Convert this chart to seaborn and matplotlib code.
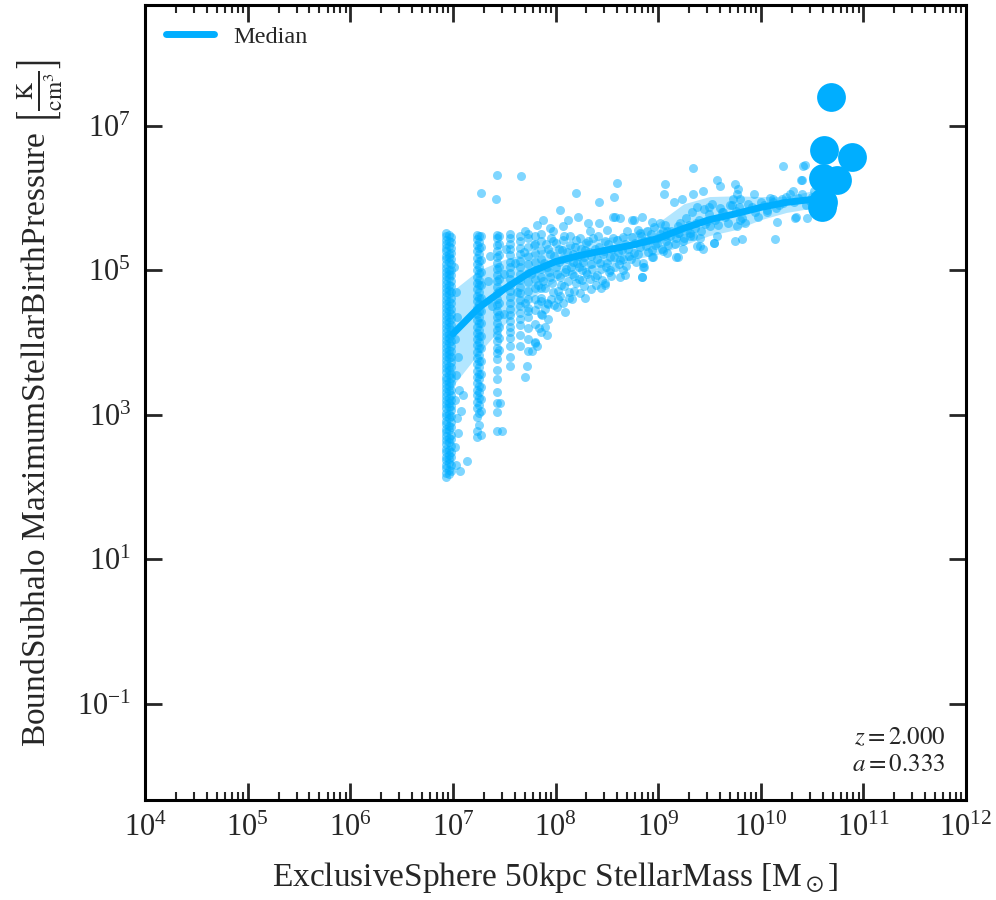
import numpy as np
import pandas as pd
import seaborn as sns
import matplotlib
matplotlib.use("Agg")
import matplotlib.pyplot as plt
from matplotlib.ticker import FixedLocator, LogFormatterSciNotation, NullLocator, LogLocator

# all values are log10 (mass in Msun, pressure in K/cm^3)
colour = "#00AEFF"

# vertical stripes at multiples of the star particle mass
stripe_x = [6.935, 6.958, 6.982, 7.232, 7.252, 7.272, 7.430, 7.452, 7.555, 7.652, 7.731,
            7.798, 7.856]
stripe_1a = [2.14, 2.19, 2.26, 2.31, 2.37, 2.42, 2.48, 2.53, 2.59, 2.65, 2.70, 2.76, 2.81, 2.87,
             2.92, 2.98, 3.03, 3.09, 3.15, 3.20, 3.26, 3.31, 3.37, 3.42, 3.48, 3.53, 3.59, 3.65,
             3.70, 3.76, 3.81, 3.87, 3.92, 3.98, 4.03, 4.09, 4.15, 4.20, 4.26, 4.31, 4.37, 4.42,
             4.48, 4.53, 4.59, 4.65, 4.70, 4.76, 4.81, 4.87, 4.92, 4.98, 5.03, 5.09, 5.15, 5.20,
             5.26, 5.31, 5.37, 5.42, 5.47, 5.52]
stripe_1b = [2.18, 2.24, 2.33, 2.39, 2.45, 2.51, 2.62, 2.68, 2.79, 2.84, 2.95, 3.01, 3.11, 3.17,
             3.23, 3.33, 3.40, 3.46, 3.55, 3.62, 3.68, 3.78, 3.84, 3.90, 4.00, 4.06, 4.12, 4.22,
             4.29, 4.35, 4.44, 4.50, 4.57, 4.67, 4.73, 4.79, 4.89, 4.95, 5.01, 5.11, 5.18, 5.23,
             5.34, 5.40, 5.49]
stripe_1c = [2.22, 2.30, 2.41, 2.49, 2.57, 2.66, 2.72, 2.83, 2.90, 2.99, 3.06, 3.12, 3.21, 3.28,
             3.35, 3.44, 3.51, 3.57, 3.66, 3.73, 3.80, 3.88, 3.95, 4.02, 4.10, 4.17, 4.24, 4.33,
             4.40, 4.46, 4.55, 4.62, 4.70, 4.78, 4.85, 4.93, 5.00, 5.08, 5.16, 5.24, 5.31, 5.39,
             5.46]
stripe_2a = [2.69, 2.78, 2.97, 3.10, 3.18, 3.27, 3.35, 3.44, 3.53, 3.61, 3.70, 3.79, 3.87, 3.96,
             4.05, 4.13, 4.22, 4.31, 4.39, 4.48, 4.57, 4.65, 4.74, 4.83, 4.91, 5.00, 5.09, 5.17,
             5.26, 5.35, 5.43, 5.49]
stripe_2b = [2.86, 3.02, 3.14, 3.23, 3.31, 3.40, 3.49, 3.57, 3.66, 3.75, 3.83, 3.92, 4.01, 4.09,
             4.18, 4.27, 4.35, 4.44, 4.53, 4.61, 4.70, 4.79, 4.87, 4.96, 5.05, 5.13, 5.22, 5.31,
             5.39, 5.47]
stripe_2c = [2.72, 3.05, 3.22, 3.39, 3.57, 3.74, 3.92, 4.09, 4.27, 4.44, 4.62, 4.79, 4.97, 5.14,
             5.32, 5.47]
stripe_3a = [2.77, 3.04, 3.17, 3.31, 3.49, 3.62, 3.77, 3.85, 3.93, 4.02, 4.10, 4.18, 4.27, 4.35,
             4.44, 4.52, 4.60, 4.69, 4.77, 4.85, 4.94, 5.02, 5.10, 5.19, 5.27, 5.35, 5.44, 5.49]
stripe_3b = [3.90, 4.06, 4.22, 4.38, 4.55, 4.71, 4.88, 5.04, 5.21, 5.37, 5.48]
stripe_4 = [3.67, 3.80, 3.95, 4.06, 4.14, 4.22, 4.30, 4.38, 4.46, 4.55, 4.63, 4.71, 4.79, 4.88,
            4.96, 5.04, 5.12, 5.21, 5.29, 5.37, 5.45, 5.50]
stripe_5 = [3.95, 4.10, 4.24, 4.32, 4.41, 4.50, 4.59, 4.68, 4.77, 4.86, 4.95, 5.04, 5.13, 5.22,
            5.31, 5.40, 5.48]
stripe_6 = [3.88, 4.05, 4.20, 4.35, 4.48, 4.60, 4.72, 4.84, 4.96, 5.08, 5.20, 5.32, 5.44, 5.50]
stripe_7 = [4.00, 4.25, 4.45, 4.60, 4.75, 4.88, 5.00, 5.12, 5.24, 5.36, 5.47]
stripe_8 = [4.15, 4.40, 4.58, 4.75, 4.90, 5.02, 5.15, 5.28, 5.40, 5.50]

# loose points (x, y)
cloud_x = [7.03, 7.07, 7.14, 7.02, 7.05, 7.04, 7.08, 7.02, 7.06, 7.10, 7.03, 7.05, 7.02, 7.04,
           7.03, 7.01, 7.48, 7.46, 7.70, 7.72, 7.77, 7.82, 7.90, 7.92, 7.73, 7.80, 7.83, 7.93,
           8.01, 8.09, 8.02, 8.16, 8.29, 8.39, 8.48, 8.68, 8.84, 8.85, 8.94,
           7.27, 7.42, 7.43, 7.66, 7.70, 7.82, 7.88, 7.95,
           7.90, 7.92, 7.93, 7.95, 7.96, 7.98, 7.99, 8.00, 8.01, 8.03, 8.05, 8.06, 8.08, 8.09,
           8.11, 8.12, 8.14, 8.15, 8.17, 8.18, 8.20, 8.21, 8.23, 8.25, 8.26, 8.28, 8.30, 8.31,
           8.33, 8.35, 8.37, 8.38, 8.40, 8.42, 8.44, 8.46, 8.48, 8.50, 8.52, 8.55, 8.57, 8.60,
           8.62, 8.65, 8.68, 8.72, 8.75, 8.78, 8.82, 8.86, 8.90, 8.93, 8.97, 9.00, 9.04, 9.08,
           9.12, 9.16, 9.20, 9.25, 9.30, 9.36, 9.40, 9.46, 9.50, 9.55, 9.60, 9.65, 9.70, 9.76,
           9.82, 9.88, 9.94, 10.00, 10.06, 10.12, 10.18, 10.25, 10.32, 10.40, 10.48, 10.52,
           8.04, 8.12, 8.22, 8.32, 8.42, 8.20, 8.42, 8.57, 8.60, 8.56, 8.63, 8.75, 8.84, 8.94,
           9.07, 9.06, 9.15, 9.23, 9.34, 9.44, 9.57, 9.34, 7.98, 8.07, 8.34, 8.50, 8.70, 8.80,
           8.89, 9.02, 9.09, 9.19, 9.28,
           8.53, 8.63, 8.48, 8.66, 8.76, 8.84, 8.86, 8.95, 9.09, 9.17, 9.24, 9.38, 9.44, 9.54,
           9.34,
           9.38, 9.50, 9.60, 9.75, 9.78, 9.77, 9.93, 9.72, 9.80, 9.77, 9.82, 9.75, 9.57, 9.51,
           9.41, 9.31, 9.19, 9.07, 9.19, 9.41, 10.14, 10.16, 10.22, 10.31, 10.34, 10.41, 10.40,
           10.45, 10.21, 10.06, 10.12, 10.33, 10.39, 10.43, 9.80, 9.62, 9.54, 8.58, 8.76, 8.82,
           9.05, 8.66]
cloud_y = [2.30, 2.22, 2.36, 2.55, 2.75, 2.95, 3.05, 3.20, 3.35, 3.28, 3.55, 3.80, 4.05, 4.35,
           4.70, 5.05, 2.77, 3.17, 3.53, 3.67, 3.88, 3.95, 4.22, 4.11, 4.43, 4.01, 4.53, 4.53,
           4.49, 4.42, 4.60, 4.60, 4.62, 4.80, 4.83, 4.94, 4.91, 5.05, 5.19,
           6.07, 5.98, 6.32, 6.30, 5.55, 5.62, 5.70, 5.58,
           4.75, 5.05, 5.30, 4.90, 5.45, 4.70, 5.20, 5.38, 4.95, 5.12, 4.80, 5.28, 5.48, 4.98,
           5.15, 4.85, 5.35, 5.05, 5.22, 4.92, 5.42, 5.10, 4.88, 5.30, 5.00, 5.18, 5.38, 4.95,
           5.25, 5.08, 5.45, 4.90, 5.15, 5.32, 5.02, 5.22, 5.40, 5.10, 4.98, 5.30, 5.18, 5.42,
           5.08, 5.28, 5.36, 5.20, 5.46, 5.12, 5.32, 5.40, 5.25, 5.50, 5.35, 5.45, 5.30, 5.40,
           5.48, 5.36, 5.52, 5.44, 5.62, 5.58, 5.70, 5.64, 5.78, 5.70, 5.86, 5.74, 5.90, 5.82,
           5.72, 5.92, 5.80, 5.95, 5.84, 5.98, 5.90, 6.02, 5.95, 6.05, 5.96, 6.10,
           5.84, 5.70, 5.74, 5.66, 5.66, 6.07, 5.95, 6.01, 6.21, 5.74, 5.73, 5.70, 5.74, 5.67,
           6.19, 6.06, 5.94, 5.98, 6.05, 6.10, 6.25, 6.42, 5.54, 5.61, 5.54, 5.56, 5.54, 5.56,
           5.54, 5.66, 5.54, 5.61, 5.56,
           5.01, 4.91, 4.80, 5.15, 5.24, 4.91, 5.05, 5.19, 5.24, 5.18, 5.29, 5.33, 5.30, 5.38,
           5.47,
           5.87, 5.87, 6.17, 6.20, 6.12, 6.06, 6.05, 5.91, 5.70, 5.61, 5.43, 5.40, 5.47, 5.61,
           5.45, 5.52, 5.52, 5.47, 5.18, 5.33, 5.43, 5.67, 6.44, 6.09, 5.74, 6.44, 6.25,
           5.73, 5.98, 5.81, 5.94, 5.73, 6.25, 6.45, 5.98, 5.80, 5.38, 5.74, 5.70, 5.52,
           5.54, 5.01]

# the crowded part of the cloud
dense_x = [7.86, 7.88, 7.89, 7.91, 7.92, 7.94, 7.95, 7.97, 7.98, 8.00, 8.02, 8.03, 8.04, 8.06,
           8.07, 8.08, 8.10, 8.11, 8.13, 8.14, 8.16, 8.17, 8.19, 8.20, 8.22, 8.23, 8.24, 8.26,
           8.27, 8.29, 8.30, 8.32, 8.34, 8.35, 8.36, 8.38, 8.40, 8.41, 8.43, 8.45, 8.47, 8.49,
           8.51, 8.53, 8.54, 8.56, 8.58, 8.61, 8.63, 8.66, 8.69, 8.71, 8.74, 8.77, 8.80, 8.83,
           8.85, 8.88, 8.91, 8.94, 8.96, 8.99, 9.02, 9.05, 9.07, 9.10, 9.13, 9.17, 9.21, 9.24,
           9.27, 9.31, 9.33, 9.37, 9.42, 9.45, 9.48, 9.52, 9.58, 9.63, 9.68, 9.73, 9.79, 9.85,
           9.91, 9.97, 10.03, 10.09, 10.15, 10.22, 10.28, 10.36, 10.44, 10.50,
           7.84, 7.87, 7.90, 7.93, 7.96, 7.99, 8.04, 8.07, 8.13, 8.18, 8.24, 8.28, 8.35, 8.44,
           7.34, 7.36, 7.38, 7.50, 7.52, 7.50, 7.61, 7.62, 7.69, 7.70, 7.76, 7.79, 7.83]
dense_y = [4.62, 4.85, 5.10, 5.36, 4.55, 4.98, 5.22, 4.82, 5.40, 5.05, 4.72, 5.30, 4.90, 5.15,
           5.42, 4.78, 5.02, 5.25, 4.70, 5.48, 4.95, 5.12, 5.32, 4.82, 5.20, 5.05, 5.45, 4.86,
           5.12, 5.28, 4.98, 5.40, 4.88, 5.20, 5.02, 5.30, 4.94, 5.48, 5.10, 4.86, 5.26, 5.05,
           5.36, 5.18, 4.92, 5.44, 5.04, 5.25, 5.14, 5.46, 5.06, 5.30, 5.16, 5.38, 5.22, 5.48,
           5.10, 5.34, 5.42, 5.28, 5.60, 5.38, 5.50, 5.26, 5.62, 5.35, 5.55, 5.45, 5.65, 5.40,
           5.72, 5.48, 5.80, 5.66, 5.55, 5.85, 5.68, 5.92, 5.62, 5.80, 5.66, 5.98, 5.88, 5.66,
           5.88, 5.74, 5.90, 6.00, 5.86, 5.93, 6.06, 6.00, 5.90, 6.02,
           4.20, 4.38, 4.47, 4.33, 4.60, 4.52, 4.65, 4.55, 4.62, 4.72, 4.68, 4.78, 4.74, 4.76,
           4.85, 5.20, 4.50, 4.95, 5.30, 4.40, 5.10, 4.70, 5.25, 4.55, 4.95, 5.35, 4.80]

# most massive objects, drawn as big dots
big_x = [10.686, 10.618, 10.891, 10.608, 10.745, 10.608, 10.598]
big_y = [7.40, 6.67, 6.57, 6.28, 6.25, 5.95, 5.87]

# running median and its scatter band
bin_x = [7.0, 7.25, 7.5, 7.75, 8.0, 8.25, 8.5, 8.75, 9.0, 9.25, 9.5, 9.75, 10.0, 10.25, 10.5]
median_y = [4.12, 4.48, 4.74, 4.97, 5.12, 5.21, 5.28, 5.35, 5.44, 5.58, 5.70, 5.78, 5.87, 5.94, 5.98]
upper_y = [4.72, 5.00, 5.15, 5.25, 5.33, 5.40, 5.45, 5.52, 5.66, 5.92, 6.02, 6.03, 6.02, 6.02, 6.10]
lower_y = [3.40, 3.85, 4.25, 4.60, 4.85, 5.00, 5.08, 5.15, 5.22, 5.35, 5.48, 5.56, 5.70, 5.80, 5.86]

stripes = [stripe_1a, stripe_1b, stripe_1c, stripe_2a, stripe_2b, stripe_2c, stripe_3a,
           stripe_3b, stripe_4, stripe_5, stripe_6, stripe_7, stripe_8]
xs, ys = [], []
for sx, col in zip(stripe_x, stripes):
    xs += [sx] * len(col)
    ys += col
xs += cloud_x + dense_x
ys += cloud_y + dense_y
points = pd.DataFrame({"mass": 10 ** np.array(xs), "pressure": 10 ** np.array(ys)})
big = pd.DataFrame({"mass": 10 ** np.array(big_x), "pressure": 10 ** np.array(big_y)})
med = pd.DataFrame({"mass": 10 ** np.array(bin_x), "pressure": 10 ** np.array(median_y)})

sns.set_style("ticks")
plt.rcParams["font.family"] = ["Liberation Serif", "DejaVu Serif"]
plt.rcParams["mathtext.fontset"] = "stix"

fig = plt.figure(figsize=(9.96, 9.0), dpi=100)
ax = fig.add_axes([0.1456, 0.1111, 0.8243, 0.8833])
ax.set_xscale("log")
ax.set_yscale("log")

sns.scatterplot(data=points, x="mass", y="pressure", color=colour, s=42, alpha=0.5,
                linewidth=0, ax=ax, zorder=2)
ax.fill_between(med["mass"], 10 ** np.array(lower_y), 10 ** np.array(upper_y),
                color=colour, alpha=0.3, linewidth=0, zorder=1)
sns.lineplot(data=med, x="mass", y="pressure", color=colour, linewidth=5, ax=ax,
             label="Median", zorder=3)
sns.scatterplot(data=big, x="mass", y="pressure", color=colour, s=430, linewidth=0,
                ax=ax, zorder=4)

ax.set_xlim(1e4, 1e12)
ax.set_ylim(10 ** -2.33, 10 ** 8.67)
ax.xaxis.set_major_locator(LogLocator(base=10, numticks=20))
ax.xaxis.set_minor_locator(LogLocator(base=10, subs=np.arange(2, 10), numticks=20))
ax.yaxis.set_major_locator(FixedLocator([1e-1, 1e1, 1e3, 1e5, 1e7]))
ax.yaxis.set_major_formatter(LogFormatterSciNotation())
ax.yaxis.set_minor_locator(NullLocator())
ax.tick_params(which="both", direction="in", top=True, right=True, labelsize=22, pad=10)
ax.tick_params(which="major", length=12, width=2)
ax.tick_params(which="minor", length=6, width=1.5)
for sp in ax.spines.values():
    sp.set_linewidth(2.2)
    sp.set_color("black")

ax.set_xlabel(r"ExclusiveSphere 50kpc StellarMass [M$_\odot$]", fontsize=24, labelpad=12)
ax.set_ylabel(r"BoundSubhalo MaximumStellarBirthPressure $\left[\mathrm{\frac{K}{cm^{3}}}\right]$",
              fontsize=24, labelpad=8)

ax.legend(loc="upper left", frameon=False, fontsize=17.5, handlelength=2.0,
          borderaxespad=0.45)
ax.text(0.975, 0.03, "$z = 2.000$\n$a = 0.333$", transform=ax.transAxes,
        ha="right", va="bottom", fontsize=18, linespacing=1.3)

fig.savefig("out.png", dpi=100)
